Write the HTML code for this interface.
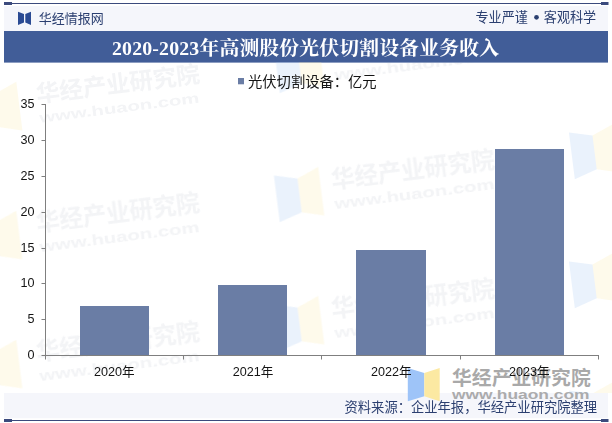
<!DOCTYPE html>
<html lang="zh"><head><meta charset="utf-8"><title>2020-2023年高测股份光伏切割设备业务收入</title>
<style>html,body{margin:0;padding:0;background:#fff;font-family:"Liberation Sans",sans-serif;}
body{width:612px;height:423px;overflow:hidden}svg{display:block}</style></head>
<body><svg width="612" height="423" viewBox="0 0 612 423"><rect x="4" y="6" width="604" height="25" fill="#f5f6fb"/>
<rect x="4" y="3" width="604" height="1" fill="#3b4a7d"/>
<rect x="4" y="2" width="8" height="3" fill="#3b4a7d"/>
<rect x="601" y="2" width="7.5" height="3" fill="#3b4a7d"/>
<rect x="4" y="31" width="604" height="31.6" fill="#415d98"/>
<rect x="4" y="393" width="604" height="25.2" fill="#f5f6fb"/>
<rect x="4" y="420" width="604" height="1" fill="#3b4a7d"/>
<rect x="4" y="419" width="8" height="3" fill="#3b4a7d"/>
<rect x="601" y="419" width="7.5" height="3" fill="#3b4a7d"/>
<polygon points="407.8,367.9 424.3,372.9 424.3,396.3 407.8,401.3" fill="#9ec4f8"/>
<polygon points="424.3,372.9 439.7,367.9 439.7,401.3 424.3,396.3" fill="#fce9a2"/>
<text x="452" y="384.5" font-family="&quot;Liberation Sans&quot;, &quot;Noto Sans CJK SC&quot;, sans-serif" font-size="19.8" font-weight="bold" fill="#8c8c8c" opacity="0.74" textLength="138.7" lengthAdjust="spacing">华经产业研究院</text>
<text x="452" y="399.3" font-family="&quot;Liberation Sans&quot;, sans-serif" font-size="12.4" font-weight="bold" fill="#8c8c8c" opacity="0.7" textLength="137.6" lengthAdjust="spacingAndGlyphs">www.huaon.com</text>
<defs><clipPath id="cp"><rect x="0" y="62" width="612" height="331"/></clipPath><filter id="bl" x="-5%" y="-5%" width="110%" height="110%"><feGaussianBlur stdDeviation="0.45"/></filter></defs>
<g clip-path="url(#cp)"><g filter="url(#bl)">
<g transform="translate(36.5 102.4) rotate(-7.2)"><text x="0.7" y="0.3" font-family="&quot;Liberation Sans&quot;, &quot;Noto Sans CJK SC&quot;, sans-serif" font-size="23.6" font-weight="bold" fill="#8a93a8" opacity="0.105" textLength="164.7" lengthAdjust="spacing">华经产业研究院</text><text x="1" y="20.6" font-family="&quot;Liberation Sans&quot;, sans-serif" font-size="14.1" font-weight="bold" fill="#8a93a8" opacity="0.105" textLength="161" lengthAdjust="spacingAndGlyphs">www.huaon.com</text><g transform="translate(-7 0)"><polygon points="-55.5,-20 -32.5,-14 -32.5,20 -55.5,27" fill="#a0c3f3" opacity="0.22"/><polygon points="-32.5,-14 -10.5,-23 -10.5,26 -32.5,20" fill="#fce9a2" opacity="0.22"/></g></g>
<g transform="translate(36.5 231.4) rotate(-7.2)"><text x="0.7" y="0.3" font-family="&quot;Liberation Sans&quot;, &quot;Noto Sans CJK SC&quot;, sans-serif" font-size="23.6" font-weight="bold" fill="#8a93a8" opacity="0.105" textLength="164.7" lengthAdjust="spacing">华经产业研究院</text><text x="1" y="20.6" font-family="&quot;Liberation Sans&quot;, sans-serif" font-size="14.1" font-weight="bold" fill="#8a93a8" opacity="0.105" textLength="161" lengthAdjust="spacingAndGlyphs">www.huaon.com</text><g transform="translate(-7 0)"><polygon points="-55.5,-20 -32.5,-14 -32.5,20 -55.5,27" fill="#a0c3f3" opacity="0.22"/><polygon points="-32.5,-14 -10.5,-23 -10.5,26 -32.5,20" fill="#fce9a2" opacity="0.22"/></g></g>
<g transform="translate(36.5 360.4) rotate(-7.2)"><text x="0.7" y="0.3" font-family="&quot;Liberation Sans&quot;, &quot;Noto Sans CJK SC&quot;, sans-serif" font-size="23.6" font-weight="bold" fill="#8a93a8" opacity="0.105" textLength="164.7" lengthAdjust="spacing">华经产业研究院</text><text x="1" y="20.6" font-family="&quot;Liberation Sans&quot;, sans-serif" font-size="14.1" font-weight="bold" fill="#8a93a8" opacity="0.105" textLength="161" lengthAdjust="spacingAndGlyphs">www.huaon.com</text><g transform="translate(-7 0)"><polygon points="-55.5,-20 -32.5,-14 -32.5,20 -55.5,27" fill="#a0c3f3" opacity="0.22"/><polygon points="-32.5,-14 -10.5,-23 -10.5,26 -32.5,20" fill="#fce9a2" opacity="0.22"/></g></g>
<g transform="translate(331.5 59.4) rotate(-7.2)"><text x="0.7" y="0.3" font-family="&quot;Liberation Sans&quot;, &quot;Noto Sans CJK SC&quot;, sans-serif" font-size="23.6" font-weight="bold" fill="#8a93a8" opacity="0.105" textLength="164.7" lengthAdjust="spacing">华经产业研究院</text><text x="1" y="20.6" font-family="&quot;Liberation Sans&quot;, sans-serif" font-size="14.1" font-weight="bold" fill="#8a93a8" opacity="0.105" textLength="161" lengthAdjust="spacingAndGlyphs">www.huaon.com</text><polygon points="-55.5,-20 -32.5,-14 -32.5,20 -55.5,27" fill="#a0c3f3" opacity="0.22"/><polygon points="-32.5,-14 -10.5,-23 -10.5,26 -32.5,20" fill="#fce9a2" opacity="0.22"/></g>
<g transform="translate(331.5 188.4) rotate(-7.2)"><text x="0.7" y="0.3" font-family="&quot;Liberation Sans&quot;, &quot;Noto Sans CJK SC&quot;, sans-serif" font-size="23.6" font-weight="bold" fill="#8a93a8" opacity="0.105" textLength="164.7" lengthAdjust="spacing">华经产业研究院</text><text x="1" y="20.6" font-family="&quot;Liberation Sans&quot;, sans-serif" font-size="14.1" font-weight="bold" fill="#8a93a8" opacity="0.105" textLength="161" lengthAdjust="spacingAndGlyphs">www.huaon.com</text><polygon points="-55.5,-20 -32.5,-14 -32.5,20 -55.5,27" fill="#a0c3f3" opacity="0.22"/><polygon points="-32.5,-14 -10.5,-23 -10.5,26 -32.5,20" fill="#fce9a2" opacity="0.22"/></g>
<g transform="translate(331.5 317.4) rotate(-7.2)"><text x="0.7" y="0.3" font-family="&quot;Liberation Sans&quot;, &quot;Noto Sans CJK SC&quot;, sans-serif" font-size="23.6" font-weight="bold" fill="#8a93a8" opacity="0.105" textLength="164.7" lengthAdjust="spacing">华经产业研究院</text><text x="1" y="20.6" font-family="&quot;Liberation Sans&quot;, sans-serif" font-size="14.1" font-weight="bold" fill="#8a93a8" opacity="0.105" textLength="161" lengthAdjust="spacingAndGlyphs">www.huaon.com</text><polygon points="-55.5,-20 -32.5,-14 -32.5,20 -55.5,27" fill="#a0c3f3" opacity="0.22"/><polygon points="-32.5,-14 -10.5,-23 -10.5,26 -32.5,20" fill="#fce9a2" opacity="0.22"/></g>
<g transform="translate(626.5 145.4) rotate(-7.2)"><polygon points="-55.5,-20 -32.5,-14 -32.5,20 -55.5,27" fill="#a0c3f3" opacity="0.22"/><polygon points="-32.5,-14 -10.5,-23 -10.5,26 -32.5,20" fill="#fce9a2" opacity="0.22"/></g>
<g transform="translate(626.5 274.4) rotate(-7.2)"><polygon points="-55.5,-20 -32.5,-14 -32.5,20 -55.5,27" fill="#a0c3f3" opacity="0.22"/><polygon points="-32.5,-14 -10.5,-23 -10.5,26 -32.5,20" fill="#fce9a2" opacity="0.22"/></g>
<g transform="translate(626.5 403.4) rotate(-7.2)"><polygon points="-55.5,-20 -32.5,-14 -32.5,20 -55.5,27" fill="#a0c3f3" opacity="0.22"/><polygon points="-32.5,-14 -10.5,-23 -10.5,26 -32.5,20" fill="#fce9a2" opacity="0.22"/></g>
</g></g>
<polygon points="18,11.7 24,13.9 24,22.4 18,25" fill="#2a4a93"/>
<polygon points="25.3,13.9 31,11.7 31,25 25.3,22.4" fill="#2a4a93"/>
<text x="38.7" y="23" font-family="&quot;Liberation Sans&quot;, &quot;Noto Sans CJK SC&quot;, sans-serif" font-size="13" fill="#2b3f70">华经情报网</text>
<text x="475.5" y="22" font-family="&quot;Liberation Sans&quot;, &quot;Noto Sans CJK SC&quot;, sans-serif" font-size="13.1" fill="#2b3f70">专业严谨</text>
<text x="543.8" y="22" font-family="&quot;Liberation Sans&quot;, &quot;Noto Sans CJK SC&quot;, sans-serif" font-size="13.1" fill="#2b3f70">客观科学</text>
<circle cx="536.5" cy="17.3" r="2.35" fill="#2b3f70"/>
<text x="112" y="55.4" font-family="&quot;Liberation Serif&quot;, &quot;Noto Serif CJK SC&quot;, serif" font-size="19.8" font-weight="bold" fill="#ffffff" textLength="387" lengthAdjust="spacing">2020-2023年高测股份光伏切割设备业务收入</text>
<rect x="238" y="78" width="6" height="6.3" fill="#6a7da5"/>
<text x="248" y="87.3" font-family="&quot;Liberation Sans&quot;, &quot;Noto Sans CJK SC&quot;, sans-serif" font-size="14.3" fill="#141414">光伏切割设备：亿元</text>
<path d="M45.5 104.0 V359.5 M41.5 355.5 H599.0" stroke="#7f7f7f" stroke-width="1" fill="none"/>
<path d="M41.5 319.5 H45.5M41.5 283.5 H45.5M41.5 248.5 H45.5M41.5 212.5 H45.5M41.5 176.5 H45.5M41.5 140.5 H45.5M41.5 104.5 H45.5M183.5 355.5 V359.5M321.5 355.5 V359.5M460.5 355.5 V359.5M598.5 355.5 V359.5" stroke="#7f7f7f" stroke-width="1" fill="none"/>
<rect x="80" y="306" width="69" height="49" fill="#6a7da5"/>
<rect x="218" y="285" width="69" height="70" fill="#6a7da5"/>
<rect x="356" y="250" width="70" height="105" fill="#6a7da5"/>
<rect x="495" y="149" width="69" height="206" fill="#6a7da5"/>
<g font-family="&quot;Liberation Sans&quot;, sans-serif" font-size="12.6" fill="#141414" text-anchor="end">
<text x="34.5" y="358.7">0</text>
<text x="34.5" y="322.7">5</text>
<text x="34.5" y="286.7">10</text>
<text x="34.5" y="251.7">15</text>
<text x="34.5" y="215.7">20</text>
<text x="34.5" y="179.7">25</text>
<text x="34.5" y="143.7">30</text>
<text x="34.5" y="107.7">35</text>
</g>
<g font-family="&quot;Liberation Sans&quot;, &quot;Noto Sans CJK SC&quot;, sans-serif" font-size="12.6" fill="#141414" text-anchor="middle">
<text x="114.2" y="375.7">2020年</text>
<text x="253.1" y="375.7">2021年</text>
<text x="391.2" y="375.7">2022年</text>
<text x="529.4" y="375.7">2023年</text>
</g>
<text x="344.5" y="412" font-family="&quot;Liberation Sans&quot;, &quot;Noto Sans CJK SC&quot;, sans-serif" font-size="13.3" fill="#2b3f70">资料来源：企业年报，华经产业研究院整理</text></svg></body></html>
